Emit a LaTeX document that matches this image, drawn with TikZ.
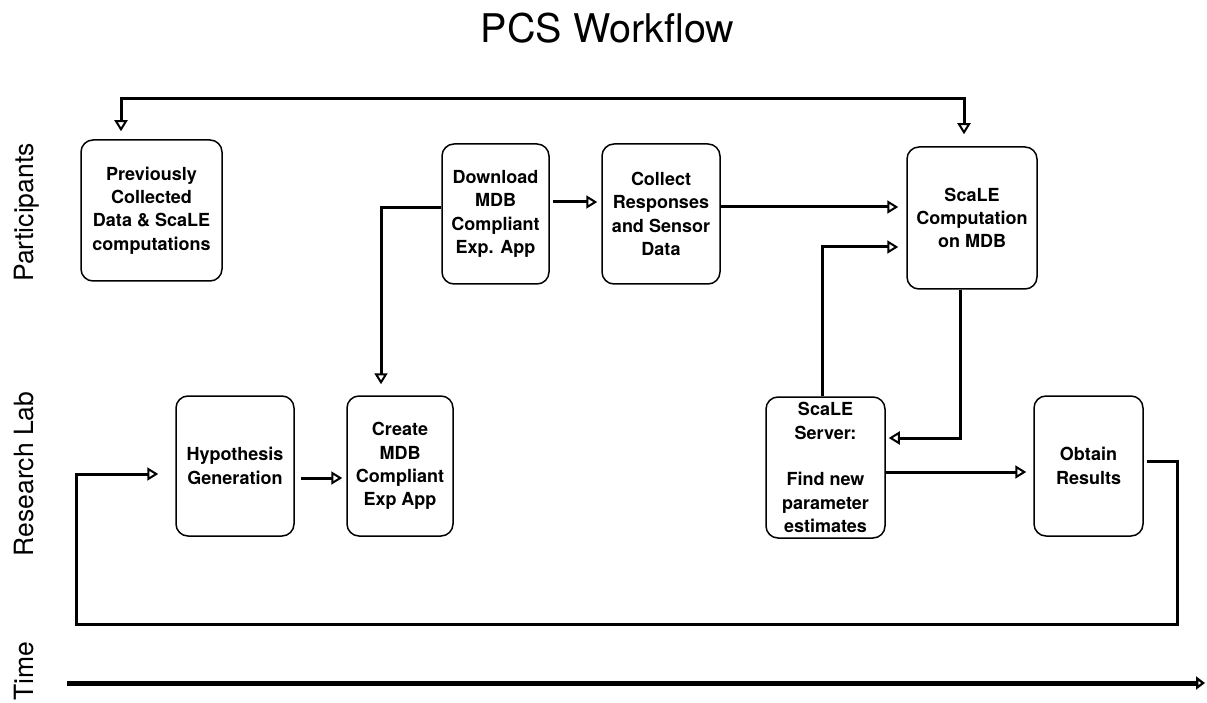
\documentclass[tikz,border=0pt]{standalone}
\usepackage{fontspec}
\setmainfont{TeX Gyre Heros}
\usetikzlibrary{arrows.meta}
\begin{document}
\begin{tikzpicture}[x=1pt,y=-1pt,
  stage/.style={draw, line width=1.5pt, rounded corners=12pt, align=center,
    inner sep=0pt, font=\fontsize{18}{23.3}\selectfont\bfseries},
  tip/.tip={Triangle[open,length=11pt,width=13pt,line width=2pt]},
  link/.style={line width=3pt, -tip},
  lane/.style={rotate=90, anchor=base, font=\fontsize{26.5}{30}\selectfont},
]
\useasboundingbox (0,0) rectangle (1207,703);

% title and lane labels
\node[anchor=base, font=\fontsize{39.5}{44}\selectfont] (title) at (607.5,43) {PCS Workflow};
\node[lane] (lp) at (33,212.5) {Participants};
\node[lane] (lr) at (33,474) {Research Lab};
\node[lane] (lt) at (33,671) {Time};

% participant lane
\node[stage, minimum width=141pt, minimum height=141pt] (prev) at (151.5,210.5)
  {Previously\\Collected\\Data \& ScaLE\\computations};
\node[stage, minimum width=107pt, minimum height=140pt] (dl) at (495.5,214)
  {Download\\MDB\\Compliant\\Exp. App};
\node[stage, minimum width=118pt, minimum height=140pt] (col) at (661,214)
  {Collect\\Responses\\and Sensor\\Data};
\node[stage, minimum width=130pt, minimum height=142pt] (comp) at (972,218)
  {ScaLE\\Computation\\on MDB};

% research lab lane
\node[stage, minimum width=118pt, minimum height=140pt] (hyp) at (235,466)
  {Hypothesis\\Generation};
\node[stage, minimum width=106pt, minimum height=140pt] (cre) at (400,466)
  {Create\\MDB\\Compliant\\Exp App};
\node[stage, minimum width=119pt, minimum height=141pt] (srv) at (825.5,467.5)
  {ScaLE\\Server:\\ \\Find new\\parameter\\estimates};
\node[stage, minimum width=109pt, minimum height=140pt] (obt) at (1088.5,466)
  {Obtain\\Results};

% connector end points
\coordinate (pA) at ([xshift=-30.5pt,yshift=8pt]prev.north);
\coordinate (cA) at ([xshift=-8pt,yshift=12pt]comp.north);
\coordinate (topbar) at (0,99);
\coordinate (dlE) at ([xshift=3pt,yshift=12pt]dl.east);
\coordinate (colW) at ([xshift=-4pt,yshift=12pt]col.west);
\coordinate (dlW) at ([yshift=6pt]dl.west);
\coordinate (creN) at ([xshift=-19pt,yshift=11pt]cre.north);
\coordinate (colE) at ([yshift=7pt]col.east);
\coordinate (compW1) at ([xshift=-8pt,yshift=11pt]comp.west);
\coordinate (compW2) at ([xshift=-8pt,yshift=-29pt]comp.west);
\coordinate (srvN) at ([xshift=-3.5pt]srv.north);
\coordinate (compS) at ([xshift=-12pt]comp.south);
\coordinate (srvE1) at ([xshift=3pt,yshift=29.5pt]srv.east);
\coordinate (srvE2) at ([yshift=-4.5pt]srv.east);
\coordinate (obtW) at ([xshift=-7pt,yshift=-6pt]obt.west);
\coordinate (obtE) at ([xshift=3pt,yshift=5pt]obt.east);
\coordinate (loopR) at (1177,624);
\coordinate (loopL) at (76,624);
\coordinate (hypW) at ([xshift=-17pt,yshift=-8pt]hyp.west);
\coordinate (hypE) at ([xshift=6pt,yshift=-12pt]hyp.east);
\coordinate (creW) at ([xshift=-4pt,yshift=-12pt]cre.west);
\coordinate (t0) at (67,683);
\coordinate (t1) at (1205,683);

% connectors
\draw[line width=3pt, tip-tip]
  (pA) -- (pA |- topbar) -- (cA |- topbar) -- (cA);
\draw[link] (dlE) -- (colW);
\draw[link] (dlW) -| (creN);
\draw[link] (colE) -- (compW1);
\draw[link] (srvN) |- (compW2);
\draw[link] (compS) |- (srvE1);
\draw[link] (srvE2) -- (obtW);
\draw[link] (obtE) -| (loopR) -- (loopL) |- (hypW);
\draw[link] (hypE) -- (creW);

% time axis
\draw[line width=5pt, -{Triangle[open,length=9pt,width=13pt,line width=3pt]}] (t0) -- (t1);
\end{tikzpicture}
\end{document}
